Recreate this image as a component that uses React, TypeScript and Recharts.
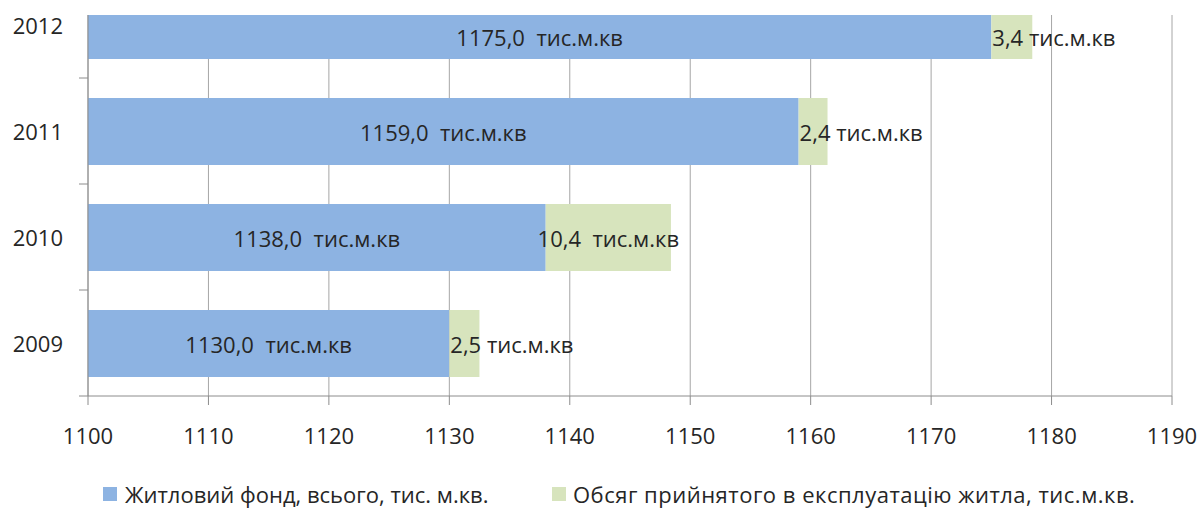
import React from 'react';
import { BarChart, Bar, XAxis, YAxis, CartesianGrid, Legend, LabelList } from 'recharts';

const YEARS = ['2012', '2011', '2010', '2009'];
const HOUSING_STOCK = [1175.0, 1159.0, 1138.0, 1130.0];
const COMMISSIONED = [3.4, 2.4, 10.4, 2.5];
const X_TICKS = [1100, 1110, 1120, 1130, 1140, 1150, 1160, 1170, 1180, 1190];
const SERIES_NAMES = [
  'Житловий фонд, всього, тис. м.кв.',
  'Обсяг прийнятого в експлуатацію житла, тис.м.кв.',
];
const UNIT = 'тис.м.кв';

const data = YEARS.map((year, i) => ({
  year,
  stock: HOUSING_STOCK[i],
  added: COMMISSIONED[i],
  stockRange: [X_TICKS[0], HOUSING_STOCK[i]],
  addedRange: [HOUSING_STOCK[i], HOUSING_STOCK[i] + COMMISSIONED[i]],
}));

const BLUE = '#8DB3E2';
const GREEN = '#D7E4BD';
const AXIS = '#8c8c8c';
const GRID = '#a6a6a6';
const TEXT = '#262626';
const FONT = "'Open Sans', sans-serif";

const CHART_W = 1200;
const CHART_H = 540;
const SHIFT = 43; // svg y of the visible top edge of the plot
const PLOT_LEFT = 88;

const fmt = (v: number) => v.toFixed(1).replace('.', ',');

const getBox = (props: any) => {
  const vb = props.viewBox || {};
  return {
    x: props.x ?? vb.x,
    y: props.y ?? vb.y,
    width: props.width ?? vb.width,
    height: props.height ?? vb.height,
  };
};

const StockLabel = (props: any) => {
  const { x, y, width, height } = getBox(props);
  const top = Math.max(y, SHIFT);
  const cy = (top + y + height) / 2;
  return (
    <text
      x={x + width / 2}
      y={cy}
      textAnchor="middle"
      dominantBaseline="central"
      fill={TEXT}
      fontSize={22}
      style={{ whiteSpace: 'pre', fontFamily: FONT }}
    >
      {`${fmt(Number(props.value))}  ${UNIT}`}
    </text>
  );
};

const AddedLabel = (props: any) => {
  const { x, y, width, height } = getBox(props);
  const top = Math.max(y, SHIFT);
  const cy = (top + y + height) / 2;
  const narrow = width < 60;
  return (
    <text
      x={narrow ? x + 1 : x + width / 2}
      y={cy}
      textAnchor={narrow ? 'start' : 'middle'}
      dominantBaseline="central"
      fill={TEXT}
      fontSize={22}
      style={{ whiteSpace: 'pre', fontFamily: FONT }}
    >
      {`${fmt(Number(props.value))}${narrow ? ' ' : '  '}${UNIT}`}
    </text>
  );
};

const YearTick = (props: any) => {
  const { x, y, payload } = props;
  const half = payload && typeof payload.offset === 'number' && payload.offset > 0 ? payload.offset : 53;
  return (
    <g>
      <text
        x={x - 25}
        y={y}
        textAnchor="end"
        dominantBaseline="central"
        fill={TEXT}
        fontSize={22}
        style={{ fontFamily: FONT }}
      >
        {payload.value}
      </text>
      <line x1={PLOT_LEFT - 9} x2={PLOT_LEFT} y1={y + half} y2={y + half} stroke={AXIS} strokeWidth={1} />
    </g>
  );
};

const renderLegend = () => (
  <div style={{ position: 'relative', width: CHART_W, height: 26, fontFamily: FONT, fontSize: 22, color: TEXT }}>
    {[
      { left: 103, color: BLUE, name: SERIES_NAMES[0], gap: 8, spacing: 0 },
      { left: 552, color: GREEN, name: SERIES_NAMES[1], gap: 7, spacing: 0.5 },
    ].map((it) => (
      <div
        key={it.name}
        style={{ position: 'absolute', left: it.left, top: 0, height: 26, display: 'flex', alignItems: 'center', whiteSpace: 'nowrap' }}
      >
        <span style={{ display: 'inline-block', width: 14, height: 14, background: it.color, marginRight: it.gap }} />
        <span style={{ letterSpacing: it.spacing, lineHeight: '26px' }}>{it.name}</span>
      </div>
    ))}
  </div>
);

export default function App() {
  return (
    <div
      style={{
        position: 'absolute',
        left: 0,
        top: 0,
        width: CHART_W,
        height: 512,
        overflow: 'hidden',
        background: '#fff',
        fontFamily: FONT,
      }}
    >
      <div
        style={{
          position: 'absolute',
          left: 0,
          top: 15 - SHIFT,
          width: CHART_W,
          height: CHART_H,
          clipPath: `polygon(0px 0px, 80px 0px, 80px ${SHIFT}px, ${CHART_W}px ${SHIFT}px, ${CHART_W}px ${CHART_H}px, 0px ${CHART_H}px)`,
        }}
      >
        <BarChart
          width={CHART_W}
          height={CHART_H}
          data={data}
          layout="vertical"
          margin={{ top: 0, right: 28, bottom: 0, left: 0 }}
          barSize={67}
          barGap={-67}
        >
          <CartesianGrid horizontal={false} vertical stroke={GRID} />
          <XAxis
            type="number"
            domain={[X_TICKS[0], X_TICKS[X_TICKS.length - 1]]}
            ticks={X_TICKS}
            interval={0}
            height={116}
            tickSize={9}
            tickMargin={23}
            axisLine={{ stroke: AXIS }}
            tickLine={{ stroke: AXIS }}
            tick={{ fill: TEXT, fontSize: 22 }}
          />
          <YAxis
            type="category"
            dataKey="year"
            width={PLOT_LEFT}
            tickSize={0}
            tickMargin={0}
            tickLine={false}
            axisLine={{ stroke: AXIS }}
            tick={<YearTick />}
          />
          <Legend
            layout="horizontal"
            verticalAlign="middle"
            align="center"
            wrapperStyle={{ top: 509, left: 0, width: CHART_W, height: 26 }}
            content={renderLegend}
          />
          <Bar dataKey="stockRange" name={SERIES_NAMES[0]} fill={BLUE} isAnimationActive={false}>
            <LabelList dataKey="stock" content={<StockLabel />} />
          </Bar>
          <Bar dataKey="addedRange" name={SERIES_NAMES[1]} fill={GREEN} isAnimationActive={false}>
            <LabelList dataKey="added" content={<AddedLabel />} />
          </Bar>
        </BarChart>
      </div>
    </div>
  );
}
